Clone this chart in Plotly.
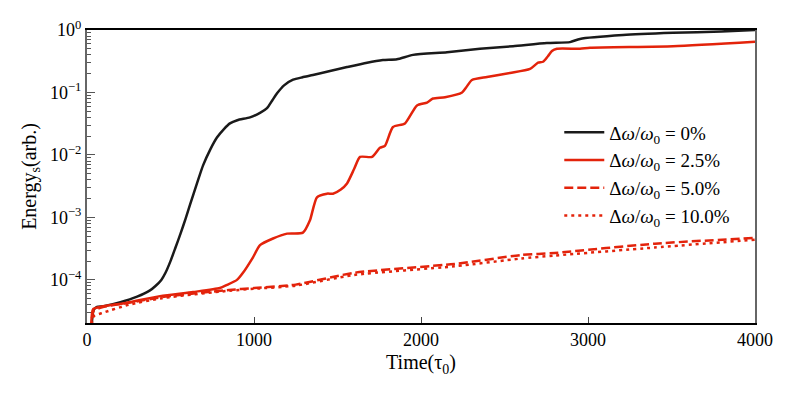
import plotly.graph_objects as go

# time axis (tau_0) and energies
t_0 = [25, 40, 60, 100, 200, 300, 377, 410, 445, 470, 500, 530, 560, 590, 617, 660, 695, 740,
       778, 820, 856, 900, 976, 1036, 1078, 1110, 1138, 1180, 1234, 1290, 1353, 1455, 1557, 1677,
       1772, 1856, 1952, 2156, 2353, 2551, 2754, 2892, 2952, 3210, 3509, 3800, 4000]
e_0 = [1.5e-5, 3.3e-5, 3.7e-5, 3.8e-5, 4.4e-5, 5.4e-5, 6.8e-5, 8e-5, 1e-4, 1.3e-4, 2e-4,
       3.3e-4, 5.5e-4, 9.5e-4, 1.6e-3, 3.6e-3, 6.8e-3, 1.25e-2, 0.019, 0.026, 0.032, 0.036,
       0.04, 0.047, 0.056, 0.075, 0.097, 0.13, 0.16, 0.175, 0.19, 0.22, 0.255, 0.3, 0.33, 0.34,
       0.4, 0.44, 0.5, 0.55, 0.62, 0.64, 0.72, 0.83, 0.9, 0.95, 1.0]

t_25 = [25, 36, 78, 240, 437, 635, 796, 838, 898, 934, 994, 1036, 1114, 1198, 1293, 1335, 1377,
        1437, 1473, 1520, 1557, 1600, 1635, 1707, 1754, 1784, 1832, 1904, 1976, 2036, 2072, 2144,
        2246, 2270, 2305, 2395, 2533, 2653, 2701, 2731, 2760, 2784, 2814, 2952, 3012, 3509, 4000]
e_25 = [1.5e-5, 3.4e-5, 3.7e-5, 4.3e-5, 5.5e-5, 6.4e-5, 7.4e-5, 8.3e-5, 1e-4, 1.3e-4, 2.3e-4,
        3.6e-4, 4.6e-4, 5.5e-4, 5.7e-4, 9e-4, 2.1e-3, 2.4e-3, 2.4e-3, 2.8e-3, 3.5e-3, 6e-3,
        9.3e-3, 9.3e-3, 1.3e-2, 1.4e-2, 2.8e-2, 3.2e-2, 0.062, 0.069, 0.08, 0.084, 0.1, 0.12,
        0.158, 0.177, 0.205, 0.238, 0.3, 0.31, 0.38, 0.46, 0.5, 0.5, 0.52, 0.55, 0.65]

t_50 = [25, 40, 100, 250, 450, 850, 1000, 1250, 1600, 2200, 2600, 2800, 3400, 4000]
e_50 = [1.5e-5, 3.2e-5, 3.7e-5, 4.3e-5, 5.3e-5, 6.9e-5, 7.4e-5, 8.4e-5, 1.3e-4, 1.8e-4,
        2.5e-4, 2.7e-4, 3.8e-4, 4.7e-4]

t_100 = [25, 40, 100, 250, 450, 850, 1000, 1250, 1600, 2200, 2600, 2800, 3400, 4000]
e_100 = [1.5e-5, 2.6e-5, 3e-5, 4e-5, 5.1e-5, 6.7e-5, 7.2e-5, 8.1e-5, 1.2e-4, 1.65e-4,
         2.2e-4, 2.45e-4, 3.3e-4, 4.4e-4]

x_ticks = [0, 1000, 2000, 3000, 4000]
y_ticks = [1e-4, 1e-3, 1e-2, 1e-1, 1]
y_labels = ["10<sup>\u22124</sup>", "10<sup>\u22123</sup>", "10<sup>\u22122</sup>",
            "10<sup>\u22121</sup>", "10<sup>0</sup>"]

RED = '#e3230b'
BLACK = '#1a1a1a'
SERIF = 'Liberation Serif, Times New Roman, serif'
lab = "\u0394<i>\u03c9</i>/<i>\u03c9</i><sub>0</sub> = "

fig = go.Figure()
series = [
    (t_0, e_0, BLACK, 'solid', '0%'),
    (t_25, e_25, RED, 'solid', '2.5%'),
    (t_50, e_50, RED, '9px,4px', '5.0%'),
    (t_100, e_100, RED, '3px,4px', '10.0%'),
]
for t, e, c, d, name in series:
    fig.add_trace(go.Scatter(x=t, y=e, mode='lines', name=lab + name,
                             line=dict(color=c, width=2.5, dash=d, shape='spline', smoothing=0.6)))

minor_vals = [k * 10 ** p for p in range(-5, 0) for k in range(2, 10)]

# page body adds an 8px offset, margins compensate for it
fig.update_layout(
    width=797, height=393,
    margin=dict(l=79, r=50, t=22, b=78),
    paper_bgcolor='white', plot_bgcolor='white',
    font=dict(family=SERIF, size=18, color='black'),
    showlegend=True,
    legend=dict(x=0.707, y=0.715, xanchor='left', yanchor='top', bgcolor='rgba(0,0,0,0)',
                font=dict(family=SERIF, size=19), itemwidth=40, tracegroupgap=0),
    xaxis=dict(range=[0, 4000], tickvals=x_ticks, ticks='inside', ticklen=6,
               showgrid=False, zeroline=False, showline=True, linecolor='black',
               linewidth=1.5, mirror=True, automargin=False,
               title=dict(text='Time(\u03c4<sub>0</sub>)', font=dict(size=20), standoff=6)),
    yaxis=dict(type='log', range=[-4.69, 0], tickvals=y_ticks, ticktext=y_labels,
               ticks='inside', ticklen=8, tickcolor='#555', showgrid=False, zeroline=False,
               showline=True, linecolor='#666', linewidth=2, mirror=True, automargin=False,
               minor=dict(tickvals=minor_vals, ticks='inside', ticklen=4, tickcolor='#555',
                          showgrid=False),
               title=dict(text='Energy<sub>s</sub>(arb.)', font=dict(size=20), standoff=8)),
)

fig.write_html("out.html")
